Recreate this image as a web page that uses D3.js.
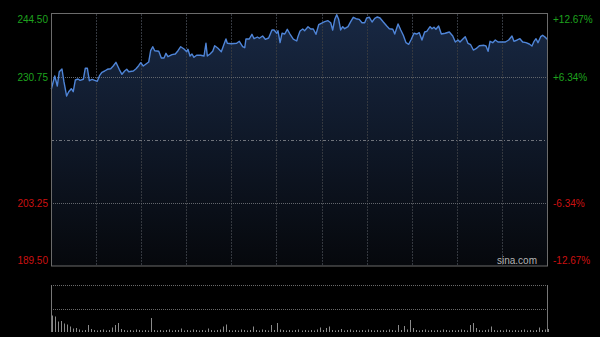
<!DOCTYPE html>
<html>
<head>
<meta charset="utf-8">
<script src="https://cdn.jsdelivr.net/npm/d3@7"></script>
<style>
  html, body { margin: 0; padding: 0; background: #000; }
  svg { display: block; }
</style>
</head>
<body>
<div class="chart_area"></div>
<script>
// minutes since open (x) and price
var minutes = [0.2,2.5,4.2,5.5,7.3,8.6,10.4,11.8,13.5,14.8,16.2,18.0,19.3,21.5,22.8,24.2,25.5,27.3,29.1,30.8,
  32.4,33.9,35.7,37.5,39.7,41.4,43.2,45.4,47.2,49.0,50.4,51.7,54.8,56.6,58.3,59.7,61.4,63.2,65.0,66.3,
  67.7,69.0,71.7,73.4,75.2,76.5,77.8,80.5,82.7,84.5,86.3,88.5,90.3,91.1,92.5,93.8,95.1,96.9,99.6,101.8,
  103.1,104.0,105.8,107.6,108.9,111.1,113.3,115.1,116.4,117.3,120.0,123.5,125.3,127.5,128.9,129.7,131.9,133.7,135.1,137.3,
  138.6,140.8,142.6,144.8,147.0,148.4,150.2,151.0,152.4,153.7,155.5,157.2,159.0,161.2,163.5,164.3,165.7,167.5,168.8,171.0,
  172.8,174.5,176.3,178.1,179.8,182.1,184.3,186.1,187.4,188.8,190.1,191.4,192.7,194.1,195.4,197.6,199.4,201.1,202.9,205.1,
  206.9,208.7,210.0,211.8,213.6,215.4,217.1,218.9,221.1,223.4,225.1,227.4,228.7,230.9,232.7,234.4,236.2,238.0,239.7,241.5,
  243.3,245.0,246.8,248.6,250.0,252.2,253.5,254.8,256.1,257.9,259.7,262.3,265.0,267.3,269.0,270.8,272.1,273.9,275.6,277.4,
  279.2,281.0,282.8,285.0,288.1,289.4,290.8,292.1,293.9,295.6,297.4,299.6,302.3,304.5,306.7,308.0,310.2,312.0,313.8,316.0,
  318.2,320.0,321.4,322.7,324.0,325.8,327.1,328.9,330.0];
var prices = [228.07,230.97,228.79,231.91,232.50,229.72,226.60,227.54,228.20,227.54,230.10,230.31,230.03,230.25,232.65,232.65,229.94,230.25,230.03,229.81,
  231.12,231.78,232.06,232.43,232.56,233.15,233.96,232.43,231.34,232.06,232.43,231.91,232.06,232.56,233.22,233.87,233.15,233.59,234.02,236.49,
  237.36,236.49,236.36,234.90,234.90,235.92,235.18,235.62,235.77,236.49,237.36,236.86,236.27,236.80,235.33,235.77,235.05,235.49,235.49,235.33,
  238.11,235.33,235.77,236.36,237.58,237.01,236.27,237.89,239.04,238.11,238.02,238.11,238.54,237.36,237.14,239.04,239.04,240.07,239.11,239.48,
  239.20,239.70,238.98,239.26,241.01,241.01,240.29,240.86,238.24,240.29,240.13,241.16,240.13,239.04,238.61,239.55,240.79,241.23,240.86,241.73,
  241.23,241.23,240.07,242.16,242.47,242.82,243.04,242.60,241.01,243.34,244.35,243.34,241.01,241.73,241.29,241.73,242.82,243.78,243.47,243.34,
  242.60,242.60,243.63,243.78,242.75,243.56,243.85,243.63,242.75,241.88,241.29,241.16,240.13,242.32,241.01,239.85,238.24,237.89,238.98,240.29,
  240.13,240.42,238.83,240.57,240.72,241.73,241.29,241.60,241.16,241.88,240.13,240.29,240.57,239.70,238.39,238.83,238.39,238.98,239.55,238.11,
  237.80,236.64,236.93,237.58,237.67,237.52,236.36,238.54,238.24,238.83,238.39,238.39,238.39,238.83,239.70,238.54,238.83,239.11,238.39,238.24,
  237.95,237.52,238.54,239.11,238.24,239.55,239.85,239.41,238.98];

// volume, one bar every 2 minutes
var volumes = [33,31,21,22,17,15,11,7,8,5,3,4,14,6,4,3,4,5,3,4,
  9,14,18,6,4,3,4,3,5,4,3,4,3,28,4,3,4,3,4,5,3,4,4,7,3,4,3,5,4,3,
  4,3,7,4,3,4,5,11,15,4,3,4,3,5,4,3,4,11,4,3,5,4,3,14,4,18,5,4,3,4,
  3,4,5,3,4,3,4,3,5,9,4,8,11,4,3,4,6,3,4,5,3,4,3,4,3,5,4,3,4,3,
  4,3,5,4,3,14,4,12,5,24,8,4,3,4,5,3,4,3,4,3,5,4,3,4,3,4,5,4,3,14,
  18,8,4,3,4,5,11,4,3,4,3,5,4,3,4,3,4,5,3,4,3,4,9,4,5,6];

var prevClose = 217;
var priceTicks = [244.5, 230.75, 203.25, 189.5];
var gridPrices = [230.75, 203.25];
var timeTicks = [30, 60, 90, 120, 150, 180, 210, 240, 270, 300];

var W = 600, H = 337;
var plot = { left: 51, right: 547, top: 14, bottom: 266 };
var vol = { top: 285, bottom: 332 };

var svg = d3.select(".chart_area").append("svg")
    .attr("width", W)
    .attr("height", H)
    .style("background", "#000");

var x = d3.scaleLinear().domain([0, 330]).range([plot.left, plot.right]);
var y = d3.scaleLinear().domain([189.5, 244.5]).range([plot.bottom, plot.top]);
var yVol = d3.scaleLinear().domain([0, 94]).range([vol.bottom, vol.top]);

var defs = svg.append("defs");
var grad = defs.append("linearGradient")
    .attr("id", "areaGrad")
    .attr("gradientUnits", "userSpaceOnUse")
    .attr("x1", 0).attr("y1", plot.top)
    .attr("x2", 0).attr("y2", plot.bottom);
grad.append("stop").attr("offset", "0%").attr("stop-color", "#182843");
grad.append("stop").attr("offset", "50%").attr("stop-color", "#0f1828");
grad.append("stop").attr("offset", "100%").attr("stop-color", "#06080c");

var pts = minutes.map(function(m, i){ return { t: m, p: prices[i] }; });

// area under the price line
svg.append("path")
    .datum(pts)
    .attr("fill", "url(#areaGrad)")
    .attr("d", d3.area()
        .x(d => x(d.t))
        .y0(y(189.5))
        .y1(d => y(d.p)));

// vertical grid
svg.selectAll(".vgrid")
    .data(timeTicks)
    .enter().append("line")
    .attr("class", "vgrid")
    .attr("x1", d => Math.round(x(d)) + 0.5)
    .attr("x2", d => Math.round(x(d)) + 0.5)
    .attr("y1", plot.top)
    .attr("y2", plot.bottom)
    .attr("stroke", "#34383f")
    .attr("stroke-dasharray", "2,1");

// horizontal grid
svg.selectAll(".hgrid")
    .data(gridPrices)
    .enter().append("line")
    .attr("class", "hgrid")
    .attr("x1", plot.left)
    .attr("x2", plot.right)
    .attr("y1", d => Math.round(y(d)) + 0.5)
    .attr("y2", d => Math.round(y(d)) + 0.5)
    .attr("stroke", "#62666c")
    .attr("stroke-dasharray", "1,1");

// previous close line
svg.append("line")
    .attr("x1", plot.left)
    .attr("x2", plot.right)
    .attr("y1", Math.round(y(prevClose)) + 0.5)
    .attr("y2", Math.round(y(prevClose)) + 0.5)
    .attr("stroke", "#70747c")
    .attr("stroke-dasharray", "3,2,1,2");

// price line
svg.append("path")
    .datum(pts)
    .attr("fill", "none")
    .attr("stroke", "#4f85d8")
    .attr("stroke-width", 1.4)
    .attr("stroke-linejoin", "round")
    .attr("d", d3.line().x(d => x(d.t)).y(d => y(d.p)));

// plot frame
svg.append("rect")
    .attr("x", plot.left + 0.5)
    .attr("y", plot.top - 0.5)
    .attr("width", plot.right - plot.left)
    .attr("height", plot.bottom - plot.top + 0.5)
    .attr("fill", "none")
    .attr("stroke", "#6b6b6b");

// price labels
function priceColor(p){ return p >= prevClose ? "#1ea31e" : "#cc1111"; }
function labelDy(i){ return i == 0 ? 5 : (i == priceTicks.length - 1 ? -6 : 0); }

svg.selectAll(".lbl")
    .data(priceTicks)
    .enter().append("text")
    .attr("class", "lbl")
    .attr("x", plot.left - 3)
    .attr("y", (d, i) => y(d) + labelDy(i))
    .attr("dy", "0.35em")
    .attr("text-anchor", "end")
    .style("font-family", "'Liberation Sans', Arial, sans-serif")
    .style("font-size", "10px")
    .style("fill", d => priceColor(d))
    .text(d => d.toFixed(2));

svg.selectAll(".pct")
    .data(priceTicks)
    .enter().append("text")
    .attr("class", "pct")
    .attr("x", plot.right + 6)
    .attr("y", (d, i) => y(d) + labelDy(i))
    .attr("dy", "0.35em")
    .style("font-family", "'Liberation Sans', Arial, sans-serif")
    .style("font-size", "10px")
    .style("fill", d => priceColor(d))
    .text(function(d){
        var v = (d - prevClose) / prevClose * 100;
        return (v > 0 ? "+" : "") + v.toFixed(2) + "%";
    });

svg.append("text")
    .attr("x", plot.right - 10)
    .attr("y", plot.bottom - 2)
    .attr("text-anchor", "end")
    .style("font-family", "'Liberation Sans', Arial, sans-serif")
    .style("font-size", "10px")
    .style("fill", "#b4b4b4")
    .text("sina.com");

// volume panel
[94, 47].forEach(function(v){
    svg.append("line")
        .attr("x1", plot.left)
        .attr("x2", plot.right)
        .attr("y1", Math.round(yVol(v)) + 0.5)
        .attr("y2", Math.round(yVol(v)) + 0.5)
        .attr("stroke", "#6a6a6a")
        .attr("stroke-dasharray", "1,1");
});

svg.selectAll(".vbar")
    .data(volumes)
    .enter().append("rect")
    .attr("class", "vbar")
    .attr("x", (d, i) => Math.round(x(i * 2)) + 1)
    .attr("width", 1)
    .attr("y", d => yVol(d))
    .attr("height", d => yVol(0) - yVol(d))
    .attr("fill", "#8a8a8a");

[plot.left, plot.right].forEach(function(px){
    svg.append("line")
        .attr("x1", px + 0.5)
        .attr("x2", px + 0.5)
        .attr("y1", vol.top)
        .attr("y2", vol.bottom)
        .attr("stroke", "#777");
});
</script>
</body>
</html>
